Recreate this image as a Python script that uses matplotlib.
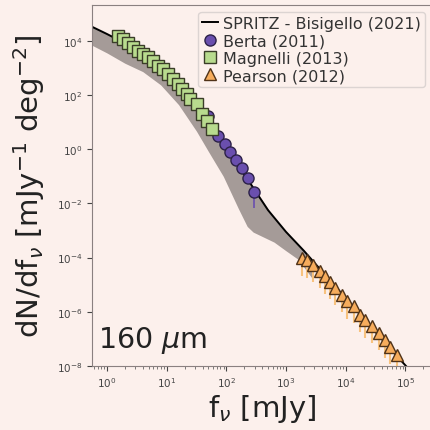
import numpy as np
import matplotlib
matplotlib.use("Agg")
import matplotlib.pyplot as plt
from matplotlib.lines import Line2D

# SPRITZ model (log10 flux [mJy], log10 dN/df)
model_logf = [-0.3, 0.0, 0.3, 0.6, 0.9, 1.2, 1.5, 1.8, 2.1, 2.4, 2.7, 3.0,
              3.3, 3.6, 3.9, 4.2, 4.5, 4.8, 5.05]
model_logn = [4.58, 4.26, 3.92, 3.45, 2.95, 2.35, 1.55, 0.60, -0.30, -1.25,
              -2.25, -3.05, -3.75, -4.50, -5.25, -6.00, -6.75, -7.50, -8.10]

# model uncertainty band
band_logf = [-0.3, 0.0, 0.3, 0.6, 0.9, 1.2, 1.5, 1.7, 1.95, 2.2, 2.35, 2.45,
             2.8, 3.0, 3.2, 3.45]
band_lo = [3.90, 3.56, 3.18, 2.87, 2.38, 1.65, 0.67, -0.08, -1.00, -2.18,
           -2.85, -3.06, -3.43, -3.75, -4.06, -4.80]
band_hi = [4.58, 4.26, 3.92, 3.45, 2.95, 2.35, 1.55, 0.92, 0.15, -0.62,
           -1.09, -1.42, -2.52, -3.05, -3.52, -4.12]

# Berta (2011)
berta_f = [50.0, 72.8, 95.5, 116, 146, 184, 232, 292]
berta_n = [17.0, 3.0, 1.53, 0.78, 0.39, 0.21, 0.085, 0.026]
berta_err_lo = [0.3, 0.3, 0.3, 0.3, 0.3, 0.3, 0.3, 0.75]

# Magnelli (2013)
magnelli_f = [1.53, 1.85, 2.25, 2.73, 3.31, 4.02, 4.88, 5.92, 7.18, 8.71,
              10.5, 12.8, 15.5, 18.1, 22.0, 24.7, 32.4, 39.3, 47.6, 57.8]
magnelli_n = [1.55e4, 1.17e4, 8.5e3, 6.0e3, 4.3e3, 3.3e3, 2.6e3, 1.8e3,
              1.2e3, 9.1e2, 6.0e2, 3.9e2, 2.6e2, 1.66e2, 1.1e2, 71, 47,
              20, 11, 5.5]

# Pearson (2012)
pearson_f = [1849, 2244, 2891, 3750, 4550, 5521, 6699, 8670, 10520, 13580,
             17580, 21330, 27610, 35650, 46130, 55980, 72610]
pearson_n = [9.8e-5, 7.9e-5, 5.5e-5, 3.1e-5, 2.0e-5, 1.3e-5, 7.6e-6, 4.3e-6,
             2.4e-6, 1.6e-6, 7.8e-7, 5.0e-7, 2.9e-7, 1.6e-7, 9.1e-8, 5.1e-8,
             2.6e-8]
pearson_err_lo = [0.79, 0.78, 0.77, 0.76, 0.77, 0.78, 0.76, 0.77, 0.78,
                  0.76, 0.77, 0.78, 0.76, 0.77, 0.78, 0.77, 0.76]

BG = "#fcf0ec"
BERTA = dict(marker="o", ms=8, mfc="#6a4fae", mec="#2c2148", mew=1.0)
MAGNELLI = dict(marker="s", ms=8.5, mfc="#b8db8e", mec="#3a3d28", mew=1.0)
PEARSON = dict(marker="^", ms=8.5, mfc="#f6ac5c", mec="#4f3218", mew=1.0)

fig = plt.figure(figsize=(4.30, 4.31), dpi=100, facecolor=BG)
ax = fig.add_axes([0.214, 0.149, 0.791, 0.837], facecolor=BG)

ax.fill_between(10 ** np.array(band_logf), 10 ** np.array(band_lo),
                10 ** np.array(band_hi), color="#a59b98", lw=0, zorder=1)
ax.plot(10 ** np.array(model_logf), 10 ** np.array(model_logn),
        color="black", lw=1.4, zorder=2)

# Berta: circles with error bars
bn = np.array(berta_n)
ax.errorbar(berta_f, berta_n, yerr=[bn * np.array(berta_err_lo), bn * 0.3],
            fmt="none", ecolor="#6a4fae", elinewidth=1.2, zorder=3)
ax.plot(berta_f, berta_n, ls="none", zorder=3, **BERTA)

# Magnelli: squares
ax.plot(magnelli_f, magnelli_n, ls="none", zorder=4, **MAGNELLI)

# Pearson: triangles with error bars
pn = np.array(pearson_n)
ax.errorbar(pearson_f, pearson_n,
            yerr=[pn * np.array(pearson_err_lo), pn * 0.2],
            fmt="none", ecolor="#f8c27e", elinewidth=1.5, zorder=3)
ax.plot(pearson_f, pearson_n, ls="none", zorder=3, **PEARSON)

ax.set_xscale("log")
ax.set_yscale("log")
ax.set_xlim(10 ** -0.25, 10 ** 5.45)
ax.set_ylim(1e-8, 10 ** 5.33)
ax.set_yticks([10.0 ** k for k in range(-8, 5, 2)])
ax.yaxis.set_minor_locator(matplotlib.ticker.NullLocator())

ax.tick_params(axis="both", which="major", labelsize=7.5, colors="#444444",
               length=3.5, width=0.8)
ax.tick_params(axis="x", which="minor", length=2, width=0.6, colors="#666666")
for side in ["left", "bottom", "top"]:
    ax.spines[side].set_color("#8a8080")
ax.spines["right"].set_visible(False)

ax.set_xlabel(r"f$_\nu$ [mJy]", fontsize=21, color="#222222", labelpad=2)
ax.set_ylabel(r"dN/df$_\nu$ [mJy$^{-1}$ deg$^{-2}$]", fontsize=21,
              color="#222222", labelpad=7)
ax.text(0.018, 0.052, r"160 $\mu$m", transform=ax.transAxes, fontsize=20.5,
        color="#222222")

handles = [
    Line2D([], [], color="black", lw=1.4),
    Line2D([], [], ls="none", **BERTA),
    Line2D([], [], ls="none", **MAGNELLI),
    Line2D([], [], ls="none", **PEARSON),
]
labels = ["SPRITZ - Bisigello (2021)", "Berta (2011)", "Magnelli (2013)",
          "Pearson (2012)"]
leg = ax.legend(handles, labels, loc="upper right",
                bbox_to_anchor=(0.979, 0.981), fontsize=11.5,
                handlelength=1.0, handletextpad=0.3, labelspacing=0.15,
                borderpad=0.25, borderaxespad=0.0, framealpha=1,
                facecolor=BG, edgecolor="#dcd4d2")
for t in leg.get_texts():
    t.set_color("#333333")

fig.savefig("out.png", dpi=100, facecolor=BG)
